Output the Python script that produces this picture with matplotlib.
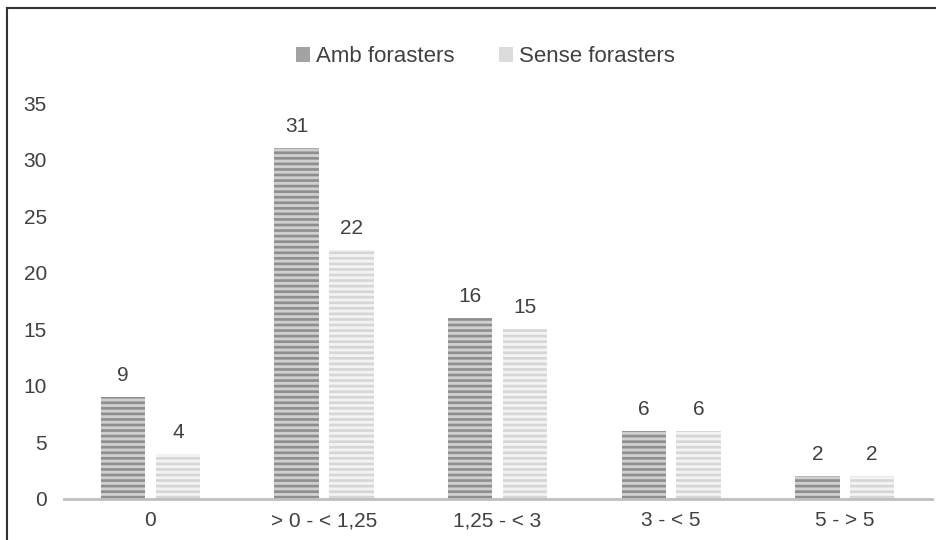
import matplotlib
matplotlib.use("Agg")
import matplotlib.pyplot as plt
import matplotlib.patches as mpatches
from matplotlib.lines import Line2D
import numpy as np

categories = ["0", "> 0 - < 1,25", "1,25 - < 3", "3 - < 5", "5 - > 5"]
amb = [9, 31, 16, 6, 2]
sense = [4, 22, 15, 6, 2]
series_names = ["Amb forasters", "Sense forasters"]
yticks = [0, 5, 10, 15, 20, 25, 30, 35]

plt.rcParams['font.family'] = ['Liberation Sans', 'DejaVu Sans']
plt.rcParams['hatch.linewidth'] = 1.9
txt = '#404040'

fig = plt.figure(figsize=(9.36, 5.4), dpi=100)
ax = fig.add_axes([63.6/936, 1-499/540, (931.6-63.6)/936, (499-103)/540])

x = np.arange(len(categories))
w = 0.256
off = 0.158
b1 = ax.bar(x - off, amb, w, color='#cfcfcf', edgecolor='#8e8e8e', linewidth=0, hatch='---')
b2 = ax.bar(x + off, sense, w, color='#f3f3f3', edgecolor='#d6d6d6', linewidth=0, hatch='---')

for bars, vals in ((b1, amb), (b2, sense)):
    for r, v in zip(bars, vals):
        ax.annotate(str(v), (r.get_x() + r.get_width()/2, v), xytext=(0, 15.5),
                    textcoords='offset points', ha='center', va='center',
                    fontsize=15, color=txt, clip_on=False)

ax.set_xlim(-0.5, 4.5)
ax.set_ylim(0, 35)
ax.set_yticks(yticks)
ax.set_yticklabels([str(t) for t in yticks])
ax.set_xticks(x)
ax.set_xticklabels(categories)
ax.tick_params(axis='y', length=0, pad=12, labelsize=15, labelcolor=txt)
ax.tick_params(axis='x', length=0, pad=9, labelsize=15, labelcolor=txt)
for s in ['top', 'right', 'left']:
    ax.spines[s].set_visible(False)
ax.spines['bottom'].set_color('#bfbfbf')
ax.spines['bottom'].set_linewidth(2)
ax.set_facecolor('none')

handles = [mpatches.Patch(facecolor='#a3a3a3', edgecolor='none'),
           mpatches.Patch(facecolor='#dcdcdc', edgecolor='none')]
fig.legend(handles, series_names, loc='center', bbox_to_anchor=(485/936, 1-57/540),
           ncol=2, frameon=False, fontsize=16, labelcolor=txt,
           handlelength=0.65, handleheight=0.65, handletextpad=0.25, columnspacing=2.0)

# figure border (left and top)
fig.add_artist(Line2D([7.5/936, 7.5/936], [0, 1-8/540], transform=fig.transFigure, color='#333333', lw=1.5))
fig.add_artist(Line2D([7.5/936, 1], [1-8/540, 1-8/540], transform=fig.transFigure, color='#333333', lw=1.5))

fig.savefig('out.png', dpi=100)
